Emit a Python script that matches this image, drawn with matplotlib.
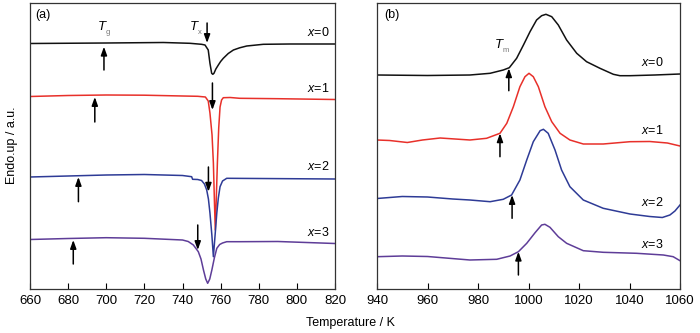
import numpy as np
import matplotlib
matplotlib.use("Agg")
import matplotlib.pyplot as plt

plt.rcParams['font.family'] = ['Liberation Sans', 'DejaVu Sans']
plt.rcParams['mathtext.fontset'] = 'custom'
plt.rcParams['mathtext.rm'] = 'Liberation Sans'
plt.rcParams['mathtext.it'] = 'Liberation Sans:italic'

# ---------------- data (signal in a.u.; larger value = lower on plot) ----
# Panel (a): crystallization region
a_T0 = [660, 700, 730, 743.9, 750, 751.8, 753.5, 754.4, 755.3, 755.9, 756.5, 757.5, 758.8, 760, 761.4, 764, 766.7, 770, 773.7, 782.4, 796.4, 820]
a_y0 = [43.5, 43, 42.5, 43.3, 44.3, 45, 50, 63.3, 73.3, 74.3, 73.3, 69, 65, 61.5, 58.3, 53.5, 50, 47.8, 46, 44.3, 44, 44]

a_T1 = [660, 680, 700, 720, 740, 748, 752, 753.5, 754.4, 755.5, 756.2, 756.8, 757.2, 757.7, 758.3, 759, 759.7, 760.5, 761.4, 765, 770, 790, 820]
a_y1 = [96.5, 95.5, 95, 95.2, 96, 96.3, 97, 101, 113, 135, 163, 205, 230, 200, 163, 128, 107, 100, 97.7, 97.5, 98.3, 98.7, 99.5]

a_T2 = [660, 680, 700, 720, 740, 744.8, 745.3, 748, 750, 751.5, 752.7, 753.6, 754.4, 755.4, 756.2, 757.1, 758, 758.8, 759.7, 761, 763.2, 780, 820]
a_y2 = [177, 176, 175, 174.5, 175.5, 176.7, 179.3, 179.5, 180.5, 184, 190, 199, 213, 235, 256.7, 235, 213, 198, 186.7, 181, 178.3, 178.5, 179]

a_T3 = [660, 680, 700, 720, 740, 743, 745.7, 748.3, 749.7, 751, 752.2, 753.2, 754.3, 755.4, 756.7, 758, 759.5, 761, 763.2, 770, 790, 820]
a_y3 = [239.5, 238.5, 237.7, 238.3, 240, 241.5, 245, 251.7, 259, 270, 279, 283.3, 279, 270, 258, 248.3, 244.5, 243, 241.7, 241.7, 241.5, 243.5]

# Panel (b): melting region
b_T0 = [940, 960, 976.8, 984.8, 990, 992.4, 995.3, 998, 1000.6, 1003.2, 1005.2, 1006.9, 1009.2, 1011.8, 1015.1, 1019.1, 1023, 1028.3, 1033.6, 1036.2, 1040.2, 1050, 1060]
b_y0 = [75, 75.5, 75, 73.3, 70, 67.7, 58.3, 45, 31.7, 20, 15.7, 14.3, 16.7, 25, 40, 53.3, 61.7, 68.3, 74.3, 75.7, 75.7, 75, 74]

b_T1 = [940, 945, 952, 958, 965, 976.8, 983.4, 988.7, 991.4, 994, 996.6, 998.6, 1000.2, 1001.9, 1003.9, 1006.5, 1009.2, 1012.5, 1016.4, 1021.7, 1029.6, 1040.2, 1048, 1055, 1060]
b_y1 = [140, 140.5, 142.5, 140, 138, 140, 138.3, 133.3, 123.3, 106.7, 86.7, 76.7, 73.3, 76.7, 86.7, 106.7, 121.7, 133.3, 140, 144, 144, 141.7, 141.5, 143, 146]

b_T2 = [940, 950, 960, 970, 976.8, 984.8, 990, 993.3, 996.6, 999.3, 1001.9, 1004.6, 1005.9, 1007.8, 1010.5, 1013.1, 1016.4, 1021.7, 1029.6, 1040.2, 1048, 1053, 1056, 1058, 1060]
b_y2 = [198.5, 196.5, 197, 199, 200, 201.7, 199.3, 195, 180, 160, 141.7, 130.7, 129.3, 133.3, 150, 170, 186.7, 200, 208.3, 214, 216.5, 217.5, 215, 211, 205]

b_T3 = [940, 950, 960, 976.8, 987.4, 992.7, 996, 999.3, 1002.6, 1005.2, 1006.5, 1008.5, 1011.8, 1015.1, 1021.7, 1029.6, 1042.8, 1053.4, 1057.3, 1060]
b_y3 = [256.7, 256, 256.5, 260, 259.3, 256, 251.7, 243.3, 232.7, 225, 224.3, 227.3, 236.7, 243.3, 250.7, 252.3, 253.3, 255, 256.7, 260.7]

series_labels = ['$x$=0', '$x$=1', '$x$=2', '$x$=3']
colors = ['#111111', '#e8302a', '#2e3b96', '#5e3d98']

# arrows: Tg (up arrows), Tx (down arrows), Tm (up arrows)
tg_T = [698.8, 694, 685.4, 682.7]
tg_from = [70, 122, 201.7, 264]
tg_to = [46.7, 97, 177, 240]
tx_T = [752.9, 755.7, 753.6, 748]
tx_from = [23, 83, 167, 225]
tx_to = [43, 110, 191.7, 250]
tm_T = [992.2, 988.7, 993.5, 996]
tm_from = [90.7, 156.7, 218.3, 275]
tm_to = [68.3, 133.3, 195, 251.7]

a_xticks = [660, 680, 700, 720, 740, 760, 780, 800, 820]
b_xticks = [940, 960, 980, 1000, 1020, 1040, 1060]

# ---------------- figure ----------------
fig = plt.figure(figsize=(7.0, 3.33), dpi=100)
axa = fig.add_axes([30/700, 44/333, 305/700, 286/333])
axb = fig.add_axes([377/700, 44/333, 303/700, 286/333])

a_data = [(a_T0, a_y0), (a_T1, a_y1), (a_T2, a_y2), (a_T3, a_y3)]
b_data = [(b_T0, b_y0), (b_T1, b_y1), (b_T2, b_y2), (b_T3, b_y3)]

for (T, y), c in zip(a_data, colors):
    axa.plot(T, y, color=c, lw=1.1, solid_joinstyle='round')
for (T, y), c in zip(b_data, colors):
    axb.plot(T, y, color=c, lw=1.1, solid_joinstyle='round')

arrow_kw = dict(arrowstyle='-|>,head_length=0.5,head_width=0.18', color='black', lw=1.1,
                shrinkA=0, shrinkB=0)
for i in range(4):
    axa.annotate('', xy=(tg_T[i], tg_to[i]), xytext=(tg_T[i], tg_from[i]), arrowprops=arrow_kw)
    axa.annotate('', xy=(tx_T[i], tx_to[i]), xytext=(tx_T[i], tx_from[i]), arrowprops=arrow_kw)
    axb.annotate('', xy=(tm_T[i], tm_to[i]), xytext=(tm_T[i], tm_from[i]), arrowprops=arrow_kw)

# series labels
a_lab_y = [33, 88, 167, 232]
b_lab_y = [62, 130, 203, 245]
for i in range(4):
    axa.text(811, a_lab_y[i], series_labels[i], ha='center', va='center', fontsize=9)
    axb.text(1049, b_lab_y[i], series_labels[i], ha='center', va='center', fontsize=9)

axa.text(663, 15, '(a)', ha='left', va='center', fontsize=9)
axb.text(943, 15, '(b)', ha='left', va='center', fontsize=9)

sub_kw = dict(ha='center', va='center', fontsize=5.5, color='#777777')
T_kw = dict(ha='center', va='center', fontsize=9.5, fontstyle='italic')
axa.text(697.8, 27, 'T', **T_kw)
axa.text(700.9, 32, 'g', **sub_kw)
axa.text(745.8, 27, 'T', **T_kw)
axa.text(749.0, 32, 'x', **sub_kw)
axb.text(988.3, 45, 'T', **T_kw)
axb.text(990.9, 50, 'm', **sub_kw)

for ax, xl, xt in [(axa, (660, 820), a_xticks), (axb, (940, 1060), b_xticks)]:
    ax.set_xlim(*xl)
    ax.set_ylim(289, 3)
    ax.set_xticks(xt)
    ax.set_yticks([])
    ax.tick_params(axis='x', direction='in', length=4, width=0.8, labelsize=9.5, pad=4)
    for s in ax.spines.values():
        s.set_linewidth(0.9)
        s.set_color('#333333')

fig.text(350/700, 1 - 323/333, 'Temperature / K', ha='center', va='center', fontsize=9)
fig.text(12/700, 1 - 145/333, 'Endo.up / a.u.', ha='center', va='center', rotation=90, fontsize=9)

fig.savefig('out.png', dpi=100)
